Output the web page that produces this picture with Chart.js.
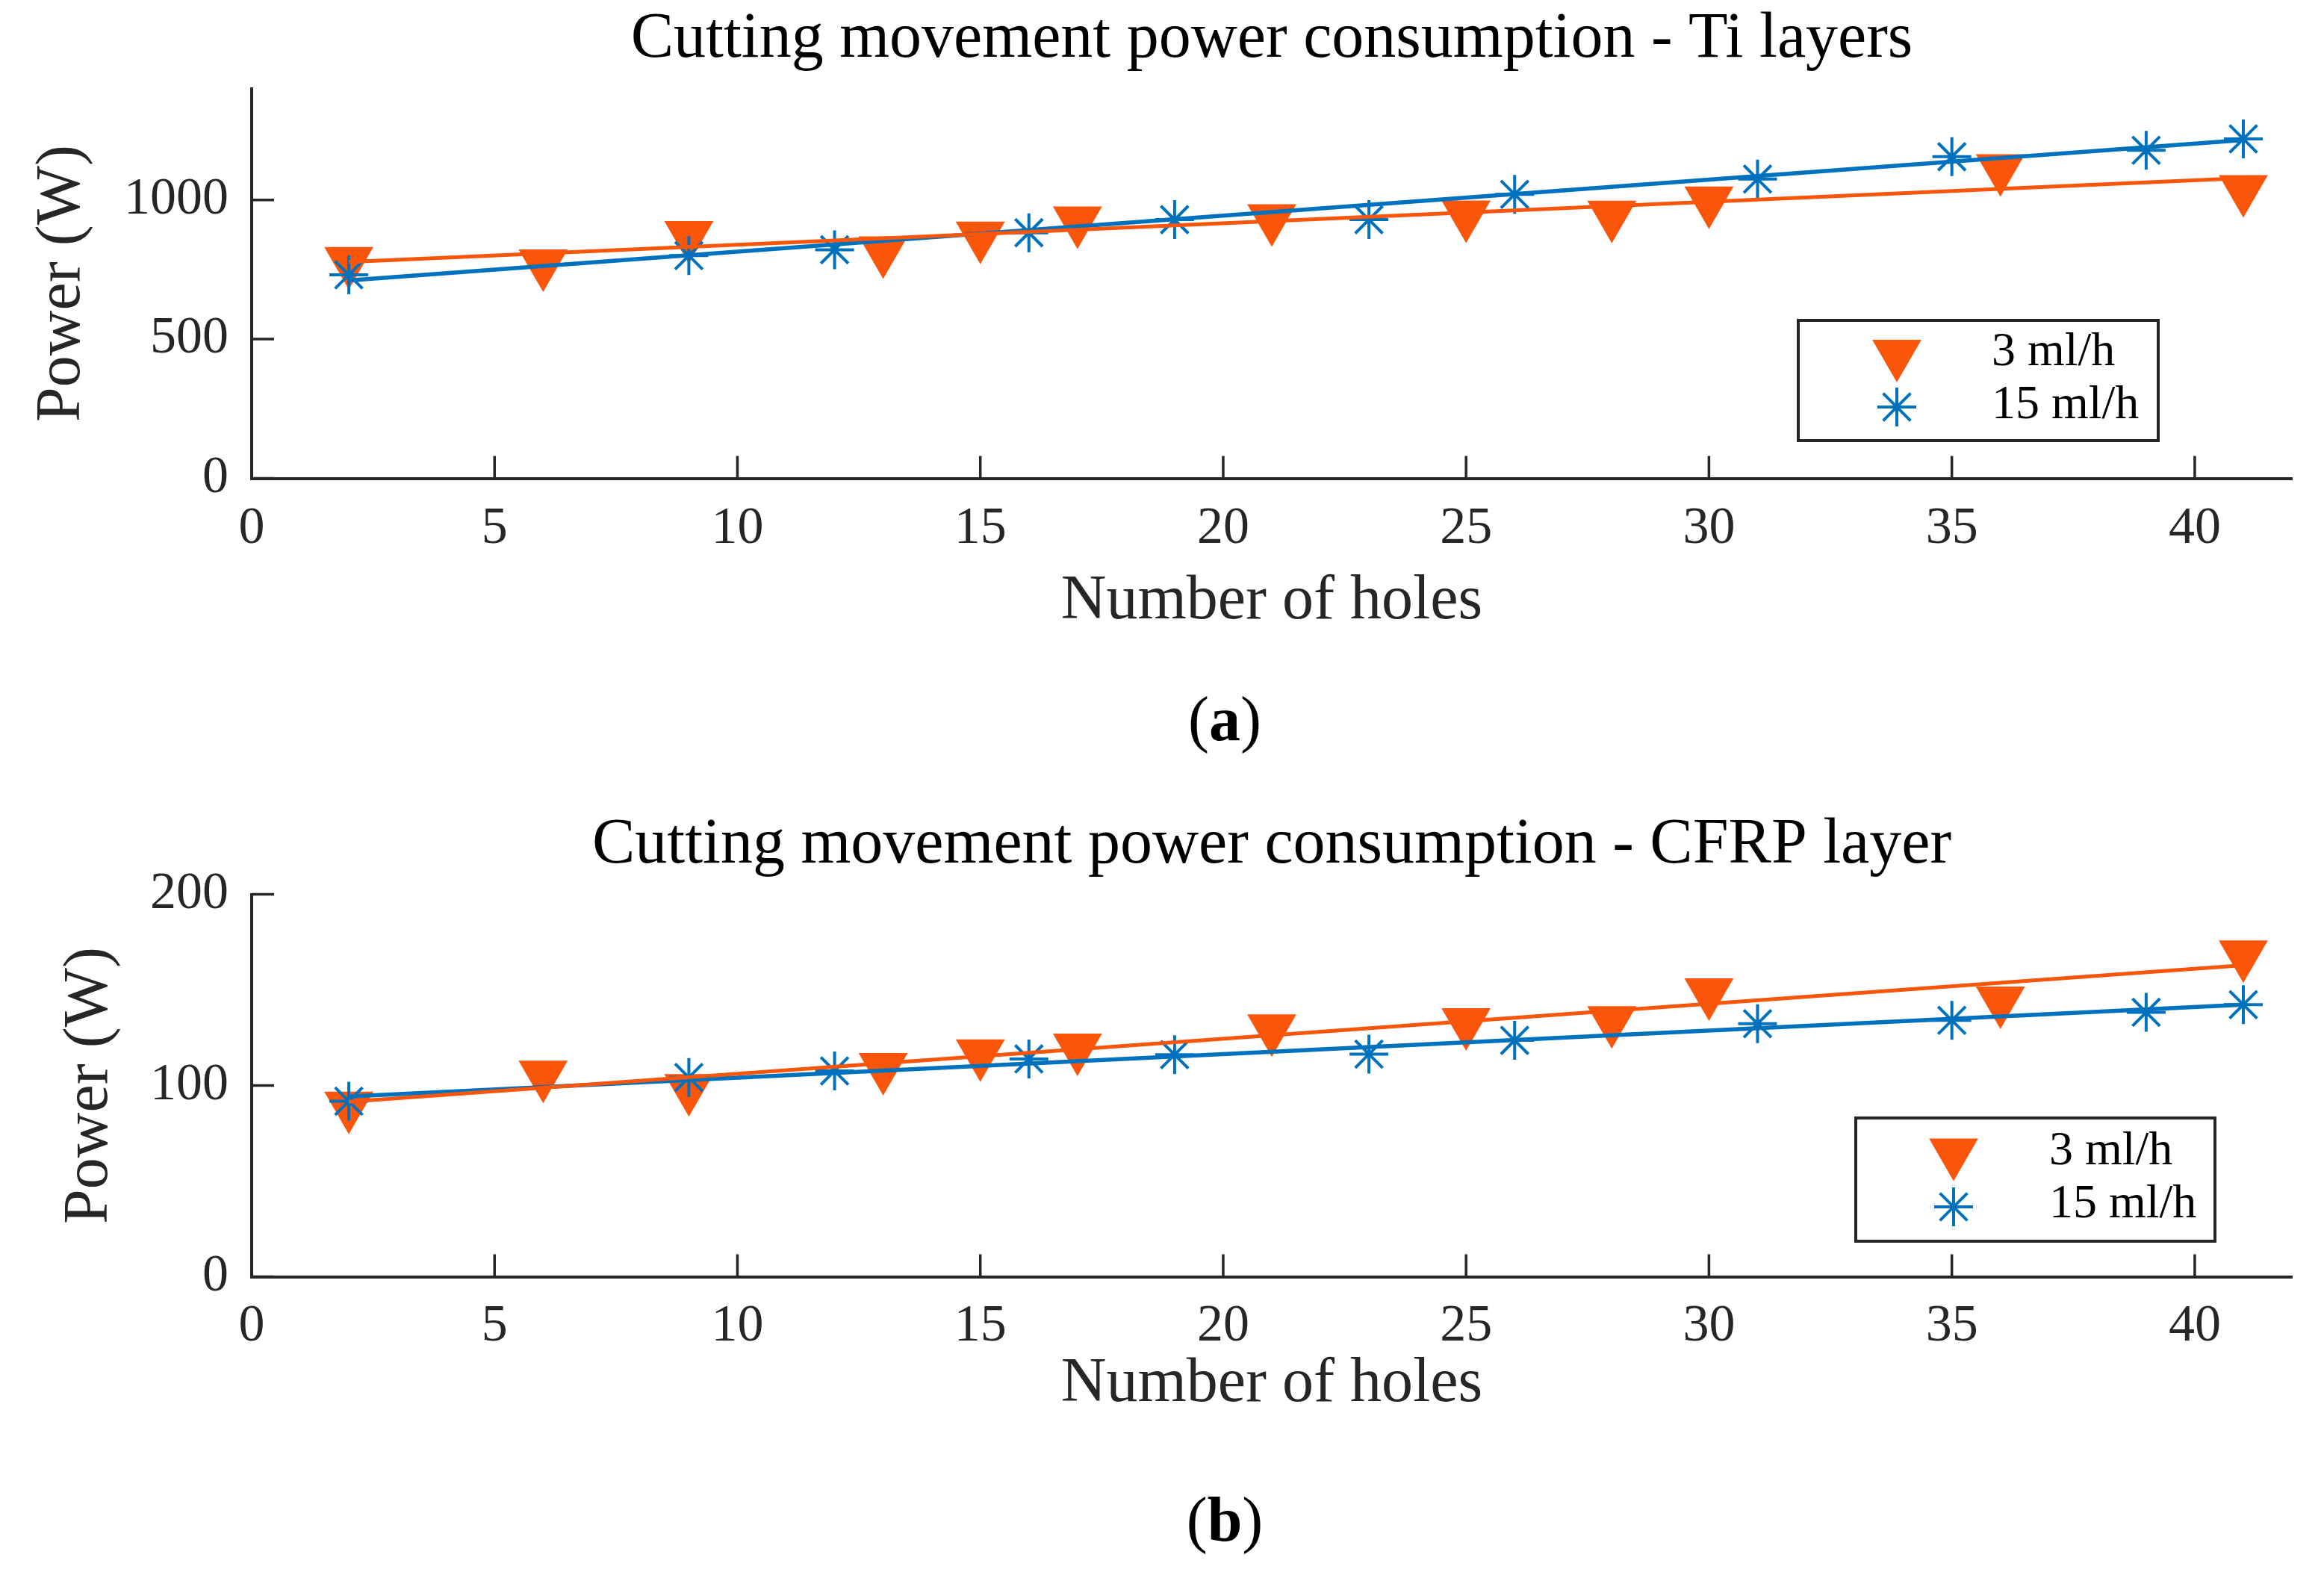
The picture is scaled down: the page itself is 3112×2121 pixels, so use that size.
<!DOCTYPE html>
<html>
<head>
<meta charset="utf-8">
<script src="https://cdn.jsdelivr.net/npm/chart.js@4.4.1/dist/chart.umd.min.js"></script>
<style>
  body { margin: 0; background: #fff; }
  #page { position: relative; width: 3112px; height: 2121px; overflow: hidden; background: #fff; }
  canvas { position: absolute; left: 0; }
  .caption { position: absolute; left: 1490px; width: 300px; text-align: center;
             font-family: "Liberation Serif", serif; font-size: 84px; line-height: 84px; color: #000; }
</style>
</head>
<body>
<div id="page">
  <canvas id="tiChart" width="3112" height="900" style="top:0"></canvas>
  <div class="caption" style="top:921px">(<b>a</b>)</div>
  <canvas id="cfrpChart" width="3112" height="900" style="top:1079px"></canvas>
  <div class="caption" style="top:1993px">(<b>b</b>)</div>
</div>
<script>
// number of holes for each flow rate
const holes3 = [2, 6, 9, 13, 15, 17, 21, 25, 28, 30, 36, 41];
const holes15 = [2, 9, 12, 16, 19, 23, 26, 31, 35, 39, 41];

// Ti layers (W)
const tiPower3 = [780, 771, 873, 818, 871, 925, 933, 947, 946, 997, 1113, 1038];
const tiPower15 = [731, 800, 821, 882, 929, 929, 1020, 1075, 1155, 1178, 1219];

// CFRP layer (W)
const cfrpPower3 = [89.4, 105.6, 98.5, 109.6, 116.7, 119.7, 129.8, 133.0, 134.1, 148.6, 144.3, 168.5];
const cfrpPower15 = [91.8, 104.2, 107.6, 113.9, 116.1, 116.4, 123.6, 132.3, 134.1, 138.3, 142.3];

// linear fits, end points
const fitHoles = [2, 41];
const tiFit3 = [777, 1078];
const tiFit15 = [711, 1215];
const cfrpFit3 = [91.5, 162.9];
const cfrpFit15 = [94.2, 142.3];

// ticks
const xTickValues = [0, 5, 10, 15, 20, 25, 30, 35, 40];
const tiYTicks = [0, 500, 1000];
const cfrpYTicks = [0, 100, 200];

const seriesLabels = ['3 ml/h', '15 ml/h'];
const xTitle = 'Number of holes';
const yTitle = 'Power (W)';

const ORANGE = '#F9550B';
const BLUE = '#0072BD';
const AXIS = '#262626';

Chart.defaults.font.family = '"Liberation Serif", "Times New Roman", serif';
Chart.defaults.color = AXIS;

const toPoints = (xs, ys) => xs.map((x, i) => ({ x: x, y: ys[i] }));

// MATLAB style ticks, pointing into the plot
const inwardTicks = {
    id: 'inwardTicks',
    afterDraw(chart) {
        const { ctx, chartArea: a, scales: { x, y } } = chart;
        ctx.save();
        ctx.strokeStyle = AXIS;
        ctx.lineWidth = 3.5;
        ctx.beginPath();
        x.ticks.forEach(t => {
            const px = x.getPixelForValue(t.value);
            ctx.moveTo(px, a.bottom);
            ctx.lineTo(px, a.bottom - 30);
        });
        y.ticks.forEach(t => {
            const py = y.getPixelForValue(t.value);
            ctx.moveTo(a.left, py);
            ctx.lineTo(a.left + 30, py);
        });
        ctx.stroke();
        ctx.restore();
    }
};

// boxed legend inside the axes
const boxLegend = {
    id: 'boxLegend',
    afterDraw(chart, args, opts) {
        if (!opts || !opts.box) return;
        const { ctx } = chart;
        const b = opts.box;
        ctx.save();
        ctx.fillStyle = '#fff';
        ctx.fillRect(b.left, b.top, b.right - b.left, b.bottom - b.top);
        ctx.strokeStyle = AXIS;
        ctx.lineWidth = 4;
        ctx.strokeRect(b.left, b.top, b.right - b.left, b.bottom - b.top);
        opts.items.forEach(item => {
            const ds = chart.data.datasets[item.dataset];
            ctx.fillStyle = ds.pointBackgroundColor;
            ctx.strokeStyle = ds.pointBorderColor;
            ctx.lineWidth = ds.pointBorderWidth;
            Chart.helpers.drawPoint(ctx, {
                pointStyle: ds.pointStyle,
                rotation: ds.pointRotation || 0,
                radius: ds.pointRadius,
                borderWidth: ds.pointBorderWidth
            }, b.markerX, item.y);
            ctx.fillStyle = '#000';
            ctx.font = '64px "Liberation Serif", serif';
            ctx.textAlign = 'left';
            ctx.textBaseline = 'alphabetic';
            ctx.fillText(ds.label, b.textX, item.baseline);
        });
        ctx.restore();
    }
};

function makeChart(id, cfg) {
    return new Chart(document.getElementById(id), {
        type: 'scatter',
        data: {
            datasets: [
                { label: 'fit 3', data: toPoints(fitHoles, cfg.fit3), showLine: true,
                  borderColor: ORANGE, borderWidth: 5, pointRadius: 0, order: 0 },
                { label: 'fit 15', data: toPoints(fitHoles, cfg.fit15), showLine: true,
                  borderColor: BLUE, borderWidth: 5.5, pointRadius: 0, order: 0 },
                { label: seriesLabels[0], data: toPoints(holes3, cfg.p3), showLine: false,
                  pointStyle: 'triangle', pointRotation: 180, pointRadius: 38,
                  pointBackgroundColor: ORANGE, pointBorderColor: ORANGE, pointBorderWidth: 0, order: 2 },
                { label: seriesLabels[1], data: toPoints(holes15, cfg.p15), showLine: false,
                  pointStyle: 'star', pointRadius: 26,
                  pointBackgroundColor: BLUE, pointBorderColor: BLUE, pointBorderWidth: 4, order: 1 }
            ]
        },
        options: {
            responsive: false,
            animation: false,
            events: [],
            layout: { padding: { left: 0, right: 43, top: 0, bottom: 0 } },
            plugins: {
                legend: { display: false },
                tooltip: { enabled: false },
                title: {
                    display: true, text: cfg.title, color: '#000', fullSize: false,
                    font: { size: 86, weight: 'normal' },
                    padding: { top: 1.4, bottom: 13.9 }
                },
                boxLegend: cfg.legend
            },
            scales: {
                x: {
                    type: 'linear', min: 0, max: 42,
                    afterFit: s => { s.height = cfg.xHeight; },
                    afterBuildTicks: s => { s.ticks = xTickValues.map(v => ({ value: v })); },
                    grid: { display: false, drawTicks: false, tickLength: 0 },
                    border: { display: true, color: AXIS, width: 4 },
                    ticks: { padding: cfg.xTickPad, color: AXIS, font: { size: 70 }, maxRotation: 0,
                             callback: v => String(v) },
                    title: { display: true, text: xTitle, color: AXIS, font: { size: 84 },
                             padding: { top: 0, bottom: cfg.xTitlePad } }
                },
                y: {
                    type: 'linear', min: 0, max: cfg.yMax,
                    afterFit: s => { s.width = 337; },
                    afterBuildTicks: s => { s.ticks = cfg.yTicks.map(v => ({ value: v })); },
                    grid: { display: false, drawTicks: false, tickLength: 0 },
                    border: { display: true, color: AXIS, width: 4 },
                    ticks: { padding: 31, color: AXIS, font: { size: 70 }, callback: v => String(v) },
                    title: { display: true, text: yTitle, color: AXIS, font: { size: 84 },
                             padding: { top: cfg.yTitlePad, bottom: 0 } }
                }
            }
        },
        plugins: [inwardTicks, boxLegend]
    });
}

makeChart('tiChart', {
    title: 'Cutting movement power consumption - Ti layers',
    p3: tiPower3, p15: tiPower15, fit3: tiFit3, fit15: tiFit15,
    yMax: 1400, yTicks: tiYTicks,
    xHeight: 259.5, xTickPad: 26, xTitlePad: 44, yTitlePad: 34,
    legend: {
        box: { left: 2408, top: 429, right: 2890, bottom: 590, markerX: 2540, textX: 2667 },
        items: [{ dataset: 2, y: 474, baseline: 489 }, { dataset: 3, y: 545, baseline: 560 }]
    }
});

makeChart('cfrpChart', {
    title: 'Cutting movement power consumption - CFRP layer',
    p3: cfrpPower3, p15: cfrpPower15, fit3: cfrpFit3, fit15: cfrpFit15,
    yMax: 200, yTicks: cfrpYTicks,
    xHeight: 269.5, xTickPad: 25, xTitlePad: 75, yTitlePad: 71,
    legend: {
        box: { left: 2485, top: 418, right: 2966, bottom: 583, markerX: 2616, textX: 2744 },
        items: [{ dataset: 2, y: 464.5, baseline: 480 }, { dataset: 3, y: 537, baseline: 551 }]
    }
});
</script>
</body>
</html>
